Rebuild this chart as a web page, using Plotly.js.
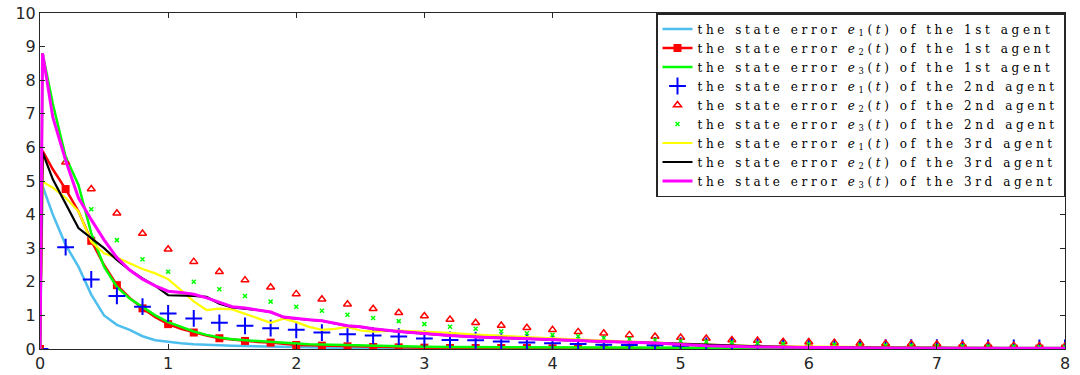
<!DOCTYPE html>
<html>
<head>
<meta charset="utf-8">
<script src="https://cdn.plot.ly/plotly-3.0.1.min.js"></script>
<style>html,body{margin:0;padding:0;background:#fff;}#chart{width:1080px;height:375px;}</style>
</head>
<body>
<div id="chart"></div>
<script>
// time grid of the continuous curves
var tLine = [0, 0.02, 0.1, 0.2, 0.3, 0.4, 0.5, 0.6, 0.7, 0.8, 0.9, 1.0, 1.1, 1.2, 1.3, 1.4, 1.5, 1.6, 1.7, 1.8, 1.9, 2.0, 2.1, 2.2, 2.3, 2.4, 2.5, 2.6, 2.8, 3.0, 3.2, 3.4, 3.6, 3.8, 4.0, 4.4, 4.8, 5.2, 5.6, 6.0, 6.5, 7.0, 7.5, 8.0];
// time grid of the marker series (every 0.2)
var tMark = [0, 0.2, 0.4, 0.6, 0.8, 1.0, 1.2, 1.4, 1.6, 1.8, 2.0, 2.2, 2.4, 2.6, 2.8, 3.0, 3.2, 3.4, 3.6, 3.8, 4.0, 4.2, 4.4, 4.6, 4.8, 5.0, 5.2, 5.4, 5.6, 5.8, 6.0, 6.2, 6.4, 6.6, 6.8, 7.0, 7.2, 7.4, 7.6, 7.8, 8.0];

// 1st agent
var a1e1 = [0, 4.85, 4.0, 3.1, 2.45, 1.62, 1.0, 0.72, 0.57, 0.38, 0.26, 0.21, 0.17, 0.14, 0.12, 0.11, 0.10, 0.09, 0.08, 0.07, 0.06, 0.05, 0.05, 0.05, 0.04, 0.04, 0.04, 0.03, 0.03, 0.03, 0.02, 0.02, 0.02, 0.02, 0.02, 0.02, 0.01, 0.01, 0.01, 0.01, 0.01, 0.01, 0.01, 0.01];
var a1e2 = [0, 5.9, 5.35, 4.76, 4.1, 3.22, 2.5, 1.9, 1.52, 1.21, 0.95, 0.74, 0.6, 0.49, 0.4, 0.32, 0.28, 0.24, 0.21, 0.19, 0.15, 0.12, 0.11, 0.10, 0.09, 0.08, 0.07, 0.06, 0.05, 0.04, 0.03, 0.03, 0.03, 0.03, 0.02, 0.02, 0.02, 0.02, 0.02, 0.01, 0.01, 0.01, 0.01, 0.01];
var a1e2Mark = [0, 4.76, 3.22, 1.90, 1.21, 0.74, 0.49, 0.32, 0.24, 0.19, 0.12, 0.10, 0.08, 0.06, 0.05, 0.04, 0.03, 0.03, 0.03, 0.03, 0.02, 0.02, 0.02, 0.02, 0.02, 0.02, 0.02, 0.01, 0.01, 0.01, 0.01, 0.01, 0.01, 0.01, 0.01, 0.01, 0.01, 0.01, 0.01, 0.01, 0.01];
var a1e3 = [0, 8.8, 7.3, 5.72, 4.88, 3.45, 2.45, 1.85, 1.5, 1.24, 1.0, 0.8, 0.65, 0.52, 0.42, 0.34, 0.29, 0.26, 0.23, 0.2, 0.18, 0.16, 0.14, 0.13, 0.12, 0.11, 0.10, 0.09, 0.08, 0.07, 0.06, 0.06, 0.05, 0.05, 0.05, 0.04, 0.04, 0.04, 0.03, 0.03, 0.03, 0.03, 0.03, 0.03];

// 2nd agent (markers only)
var a2e1 = [0, 3.03, 2.07, 1.58, 1.26, 1.06, 0.91, 0.78, 0.69, 0.62, 0.57, 0.49, 0.44, 0.40, 0.37, 0.31, 0.27, 0.26, 0.22, 0.19, 0.17, 0.15, 0.13, 0.12, 0.11, 0.10, 0.09, 0.08, 0.07, 0.06, 0.06, 0.05, 0.05, 0.04, 0.04, 0.04, 0.03, 0.03, 0.03, 0.03, 0.03];
var a2e2 = [0, 5.56, 4.76, 4.04, 3.44, 2.97, 2.60, 2.30, 2.05, 1.84, 1.64, 1.48, 1.33, 1.20, 1.08, 0.98, 0.88, 0.78, 0.70, 0.63, 0.57, 0.51, 0.47, 0.42, 0.37, 0.34, 0.31, 0.27, 0.25, 0.22, 0.21, 0.19, 0.17, 0.16, 0.15, 0.14, 0.12, 0.11, 0.10, 0.09, 0.08];
var a2e3 = [0, 5.65, 4.16, 3.24, 2.67, 2.30, 2.00, 1.78, 1.58, 1.41, 1.26, 1.14, 1.02, 0.92, 0.83, 0.74, 0.66, 0.60, 0.53, 0.47, 0.42, 0.38, 0.33, 0.30, 0.27, 0.24, 0.22, 0.20, 0.18, 0.16, 0.15, 0.13, 0.12, 0.11, 0.10, 0.09, 0.08, 0.08, 0.07, 0.06, 0.06];

// 3rd agent
var a3e1 = [0, 4.98, 4.8, 4.5, 4.1, 3.2, 2.85, 2.72, 2.55, 2.38, 2.25, 2.08, 1.75, 1.42, 1.16, 1.2, 1.18, 1.05, 0.9, 0.78, 0.9, 0.8, 0.66, 0.57, 0.6, 0.66, 0.55, 0.52, 0.55, 0.52, 0.48, 0.43, 0.4, 0.36, 0.32, 0.25, 0.18, 0.13, 0.09, 0.07, 0.05, 0.04, 0.03, 0.02];
var a3e2 = [0, 5.85, 5.05, 4.34, 3.6, 3.3, 3.0, 2.65, 2.35, 2.1, 1.88, 1.6, 1.6, 1.58, 1.55, 1.35, 1.24, 1.21, 1.16, 1.1, 0.95, 0.9, 0.87, 0.84, 0.76, 0.69, 0.66, 0.6, 0.52, 0.45, 0.4, 0.36, 0.33, 0.3, 0.27, 0.22, 0.18, 0.12, 0.08, 0.05, 0.04, 0.02, 0.02, 0.02];
var a3e3 = [0, 8.8, 6.9, 5.62, 4.5, 3.85, 3.25, 2.72, 2.35, 2.08, 1.88, 1.72, 1.68, 1.63, 1.52, 1.38, 1.26, 1.22, 1.16, 1.1, 0.95, 0.9, 0.87, 0.84, 0.76, 0.69, 0.66, 0.6, 0.52, 0.45, 0.4, 0.36, 0.33, 0.3, 0.27, 0.22, 0.18, 0.1, 0.06, 0.04, 0.03, 0.02, 0.02, 0.02];

var names = [
  'the state error <i>e</i><sub>1</sub>(<i>t</i>) of the 1st agent',
  'the state error <i>e</i><sub>2</sub>(<i>t</i>) of the 1st agent',
  'the state error <i>e</i><sub>3</sub>(<i>t</i>) of the 1st agent',
  'the state error <i>e</i><sub>1</sub>(<i>t</i>) of the 2nd agent',
  'the state error <i>e</i><sub>2</sub>(<i>t</i>) of the 2nd agent',
  'the state error <i>e</i><sub>3</sub>(<i>t</i>) of the 2nd agent',
  'the state error <i>e</i><sub>1</sub>(<i>t</i>) of the 3rd agent',
  'the state error <i>e</i><sub>2</sub>(<i>t</i>) of the 3rd agent',
  'the state error <i>e</i><sub>3</sub>(<i>t</i>) of the 3rd agent'
];
function wide(s) { return '<span style="letter-spacing:3.6px">' + s + '</span>'; }

var traces = [
  {x: tLine, y: a1e1, mode: 'lines', name: wide(names[0]), line: {color: '#4DBEEE', width: 2.5}},
  {x: tLine, y: a1e2, mode: 'lines', showlegend: false, line: {color: '#FF0000', width: 2.5}},
  {x: tMark, y: a1e2Mark, mode: 'markers', showlegend: false, marker: {symbol: 'square', size: 8, color: '#FF0000'}},
  {x: [null], y: [null], mode: 'lines+markers', name: wide(names[1]), line: {color: '#FF0000', width: 2.5}, marker: {symbol: 'square', size: 8, color: '#FF0000'}},
  {x: tLine, y: a1e3, mode: 'lines', name: wide(names[2]), line: {color: '#00FF00', width: 2.5}},
  {x: tMark, y: a2e1, mode: 'markers', name: wide(names[3]), marker: {symbol: 'cross-thin', size: 12, color: '#0000FF', line: {color: '#0000FF', width: 2}}},
  {x: tMark, y: a2e2, mode: 'markers', name: wide(names[4]), marker: {symbol: 'triangle-up-open', size: 7, color: '#FF0000', line: {color: '#FF0000', width: 1.5}}},
  {x: tMark, y: a2e3, mode: 'markers', name: wide(names[5]), marker: {symbol: 'x-thin', size: 4, color: '#00FF00', line: {color: '#00FF00', width: 1.5}}},
  {x: tLine, y: a3e1, mode: 'lines', name: wide(names[6]), line: {color: '#FFFF00', width: 2.2}},
  {x: tLine, y: a3e2, mode: 'lines', name: wide(names[7]), line: {color: '#000000', width: 2.2}},
  {x: tLine, y: a3e3, mode: 'lines', name: wide(names[8]), line: {color: '#FF00FF', width: 3}}
];

var axisCommon = {
  showline: true, linecolor: '#262626', linewidth: 1, mirror: 'ticks',
  ticks: 'inside', ticklen: 5, tickwidth: 1, tickcolor: '#262626',
  showgrid: false, zeroline: false, dtick: 1,
  tickfont: {family: 'DejaVu Sans', size: 16, color: '#262626'}
};

var layout = {
  width: 1080, height: 375,
  margin: {l: 40, r: 15, t: 13, b: 26},
  paper_bgcolor: '#ffffff', plot_bgcolor: '#ffffff',
  xaxis: Object.assign({}, axisCommon, {range: [0, 8], tick0: 0}),
  yaxis: Object.assign({}, axisCommon, {range: [0, 10], tick0: 0}),
  showlegend: true,
  legend: {
    x: 1, y: 1, xanchor: 'right', yanchor: 'top',
    bgcolor: '#ffffff', bordercolor: '#262626', borderwidth: 1.5,
    font: {family: 'DejaVu Serif', size: 12, color: '#000000'},
    itemwidth: 30
  }
};

Plotly.newPlot('chart', traces, layout, {displayModeBar: false, staticPlot: true});
</script>
</body>
</html>
